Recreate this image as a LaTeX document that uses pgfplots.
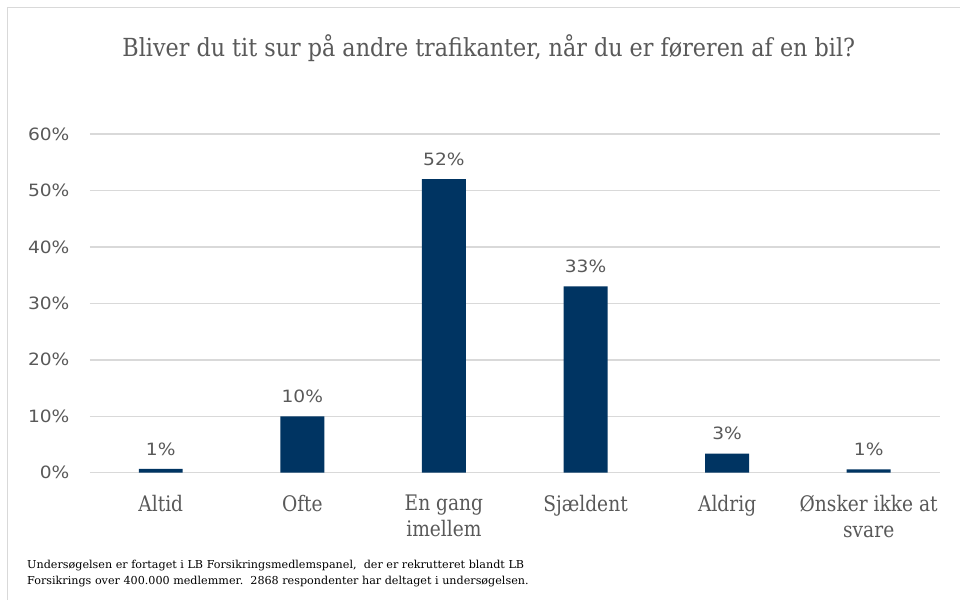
\documentclass[border=0pt]{standalone}
\usepackage{fontspec}
\setmainfont{DejaVu Serif}[FakeStretch=0.87]
\newfontfamily\titlefont{DejaVu Serif}[FakeStretch=0.895]
\newfontfamily\numfont{DejaVu Sans}[FakeStretch=1.1]
\newfontfamily\footfont{DejaVu Serif}[FakeStretch=1.02]
\usepackage{pgfplots}
\pgfplotsset{compat=1.18}
\definecolor{barc}{HTML}{003462}
\definecolor{gridc}{HTML}{D9D9D9}
\definecolor{txt}{HTML}{595959}
\begin{document}
\begin{tikzpicture}[x=1bp,y=1bp]
\fill[white] (0,0) rectangle (960,600);
\draw[gridc, line width=1bp] (8,0) -- (8,592) -- (960,592);
\node[anchor=base, text=txt, font=\titlefont\fontsize{25}{30}\selectfont, inner sep=0pt] at (489,543.3) {Bliver du tit sur på andre trafikanter, når du er føreren af en bil?};
\begin{axis}[
  at={(90bp,127bp)}, anchor=south west,
  scale only axis, width=850bp, height=339bp,
  xmin=-0.5, xmax=5.5, ymin=0, ymax=60,
  axis line style={draw=none},
  ytick={0,10,20,30,40,50,60},
  yticklabel={\pgfmathprintnumber{\tick}\%},
  /pgf/number format/assume math mode=true,
  yticklabel style={font=\numfont\fontsize{17}{20}\selectfont, text=txt, xshift=-17bp},
  ymajorgrids, grid style={gridc, line width=1.5bp},
  major tick length=0pt,
  xtick={0,1,2,3,4,5},
  xticklabels={Altid,Ofte,{En gang\\imellem},Sjældent,Aldrig,{Ønsker ikke at\\svare}},
  xticklabel style={font=\fontsize{21.5}{26}\selectfont, text=txt, align=center, yshift=-19bp},
  ybar, bar width=44bp,
  nodes near coords={\pgfmathprintnumber[fixed,precision=0]{\pgfplotspointmeta}\%},
  nodes near coords style={font=\numfont\fontsize{17}{20}\selectfont, text=txt, anchor=south, yshift=10bp},
  clip=false,
]
\addplot[fill=barc, draw=none] coordinates {(0,0.7) (1,10) (2,52) (3,33) (4,3.4) (5,0.6)};
\end{axis}
\node[anchor=base west, font=\footfont\fontsize{11}{16}\selectfont, align=left, inner sep=0pt] at (27,15) {Undersøgelsen er fortaget i LB Forsikringsmedlemspanel,\ \ der er rekrutteret blandt LB\\Forsikrings over 400.000 medlemmer.\ \ 2868 respondenter har deltaget i undersøgelsen.};
\end{tikzpicture}
\end{document}
